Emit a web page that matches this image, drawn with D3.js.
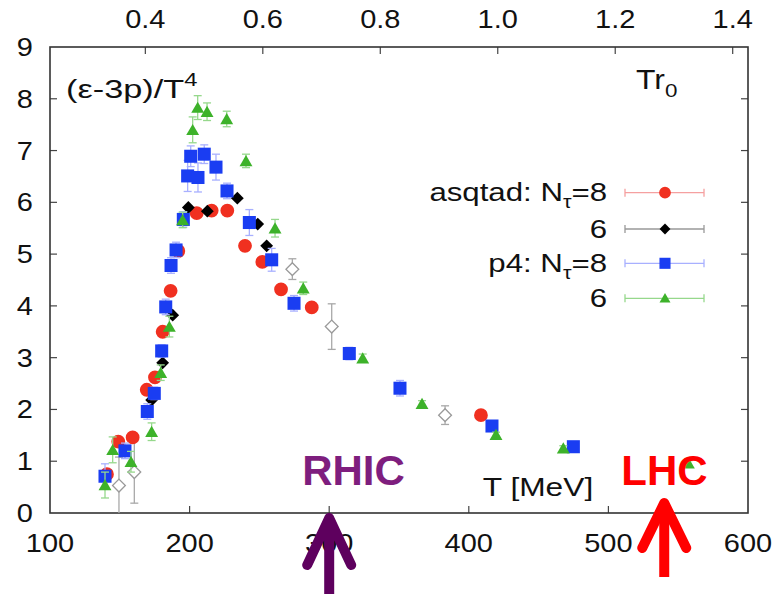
<!DOCTYPE html>
<html>
<head>
<meta charset="utf-8">
<script src="https://cdn.jsdelivr.net/npm/d3@7"></script>
<style>
  html, body { margin: 0; padding: 0; background: #fff; }
  svg { display: block; font-family: "Liberation Sans", Arial, Helvetica, sans-serif; }
</style>
</head>
<body>
<svg id="chart" width="775" height="594"></svg>
<script>
// Trace anomaly (e-3p)/T^4 versus temperature, lattice QCD results.
// Each series: temperature [MeV], value, error.
const asqtad8T = [140.8, 148.9, 159.2, 169.3, 175.2, 180.7, 186.4, 191.9, 205.1, 215.8, 227.0, 239.7, 252.1, 265.5, 287.5, 408.7];
const asqtad8V = [0.75, 1.38, 1.46, 2.38, 2.62, 3.50, 4.29, 5.06, 5.79, 5.84, 5.84, 5.16, 4.85, 4.32, 3.97, 1.89];

const asqtad6T = [172.8, 180.7, 187.9, 199.1, 212.7, 234.2, 248.8, 255.2];
const asqtad6V = [2.18, 2.90, 3.82, 5.90, 5.83, 6.08, 5.58, 5.16];

const asqtad6hT = [149.4, 160.4, 273.6, 301.8, 383.0];
const asqtad6hV = [0.53, 0.79, 4.71, 3.60, 1.89];
const asqtad6hE = [0.55, 0.60, 0.20, 0.44, 0.18];

const p4n8T = [139.4, 153.7, 169.7, 174.7, 180.0, 182.9, 186.7, 190.3, 195.5, 198.6, 200.8, 206.0, 210.5, 218.9, 226.8, 242.8, 258.8, 274.8, 314.4, 350.7, 416.6, 474.9];
const p4n8V = [0.71, 1.20, 1.96, 2.31, 3.13, 3.98, 4.78, 5.08, 5.67, 6.51, 6.89, 6.48, 6.93, 6.68, 6.22, 5.61, 4.89, 4.05, 3.08, 2.41, 1.68, 1.28];
const p4n8E = [0.24, 0.15, 0.15, 0.12, 0.12, 0.15, 0.15, 0.15, 0.15, 0.30, 0.20, 0.28, 0.18, 0.25, 0.15, 0.25, 0.22, 0.15, 0.12, 0.15, 0.08, 0.08];

const p4n6T = [139.4, 144.9, 158.0, 172.8, 179.3, 185.5, 195.0, 202.2, 205.8, 212.5, 226.6, 240.4, 261.2, 281.4, 324.0, 366.5, 419.5, 467.7, 557.3];
const p4n6V = [0.54, 1.22, 0.99, 1.57, 2.71, 3.60, 5.66, 7.40, 7.83, 7.75, 7.61, 6.80, 5.50, 4.34, 2.99, 2.11, 1.51, 1.25, 0.96];
const p4n6E = [0.25, 0.25, 0.20, 0.17, 0.15, 0.20, 0.15, 0.25, 0.23, 0.17, 0.15, 0.13, 0.17, 0.12, 0.08, 0.06, 0.05, 0.05, 0.05];

// Axis ticks
const xTicks = [100, 200, 300, 400, 500, 600];
const yTicks = [0, 1, 2, 3, 4, 5, 6, 7, 8, 9];
const topTicks = [0.4, 0.6, 0.8, 1.0, 1.2, 1.4];
const r0fm = 0.469, hbarc = 197.327;   // T r0 = T[MeV] * r0 / (hbar c)

// Collider temperatures marked below the axis
const colliders = [
  { name: "RHIC", T: 300 },
  { name: "LHC", T: 540 }
];

const svg = d3.select("#chart");
const L = 50, R = 748, T0 = 47, B = 513;
const SX = 1.16; // horizontal text stretch

const x = d3.scaleLinear().domain([100, 600]).range([L, R]);
const y = d3.scaleLinear().domain([0, 9]).range([B, T0]);
const xTop = d3.scaleLinear().domain([100 * r0fm / hbarc, 600 * r0fm / hbarc]).range([L, R]);

function label(g, px, py, str, size, anchor, sx) {
  return g.append("text")
    .attr("transform", `translate(${px},${py}) scale(${sx === undefined ? SX : sx},1)`)
    .attr("text-anchor", anchor || "start")
    .attr("font-size", size)
    .attr("fill", "#111")
    .text(str);
}

// Ticks (inward) on all four sides
const tl = 7;
const tickG = svg.append("g").attr("stroke", "#444").attr("stroke-width", 1.2);
xTicks.slice(1, -1).forEach(t => {
  tickG.append("line").attr("x1", x(t)).attr("x2", x(t)).attr("y1", B).attr("y2", B - tl);
});
yTicks.slice(1, -1).forEach(t => {
  tickG.append("line").attr("x1", L).attr("x2", L + tl).attr("y1", y(t)).attr("y2", y(t));
  tickG.append("line").attr("x1", R).attr("x2", R - tl).attr("y1", y(t)).attr("y2", y(t));
});
topTicks.forEach(t => {
  tickG.append("line").attr("x1", xTop(t)).attr("x2", xTop(t)).attr("y1", T0).attr("y2", T0 + tl);
});

// Frame
svg.append("rect").attr("x", L).attr("y", T0).attr("width", R - L).attr("height", B - T0)
  .attr("fill", "none").attr("stroke", "#333").attr("stroke-width", 1.6);

// Tick labels
const lab = svg.append("g");
xTicks.forEach(t => label(lab, x(t), 552, String(t), 25, "middle"));
yTicks.forEach(t => label(lab, 33, y(t) + 9, String(t), 25, "end"));
topTicks.forEach(t => label(lab, xTop(t), 28, d3.format(".1f")(t), 25, "middle"));

// Axis titles
const yt = label(svg, 66, 98, "(\u03b5-3p)/T", 26, "start", 1.32);
yt.append("tspan").attr("dy", -12).attr("font-size", 18).text("4");
const tr = label(svg, 636, 89, "Tr", 27, "start", 1.18);
tr.append("tspan").attr("dy", 8).attr("font-size", 19).text("0");
label(svg, 538, 496, "T [MeV]", 26, "middle", 1.22);

// Series definitions
const series = [
  { T: asqtad6hT, V: asqtad6hV, E: asqtad6hE, shape: "diamond", fill: "#fff", stroke: "#9a9a9a", err: "#a8a8a8", legend: false },
  { T: asqtad8T, V: asqtad8V, E: null, shape: "circle", fill: "#f03020", stroke: "none", err: "#f5a0a0", legend: true, lab: ["asqtad: N", "=8"] },
  { T: asqtad6T, V: asqtad6V, E: null, shape: "diamond", fill: "#000", stroke: "none", err: "#999", legend: true, lab: ["6"] },
  { T: p4n8T, V: p4n8V, E: p4n8E, shape: "square", fill: "#1a3df2", stroke: "none", err: "#a8b0ff", legend: true, lab: ["p4: N", "=8"] },
  { T: p4n6T, V: p4n6V, E: p4n6E, shape: "triangle", fill: "#3db22a", stroke: "none", err: "#96d88c", legend: true, lab: ["6"] }
];

function symbolPath(shape) {
  if (shape === "circle") return d3.symbol(d3.symbolCircle, 150)();
  if (shape === "square") return d3.symbol(d3.symbolSquare, 170)();
  if (shape === "triangle") return d3.symbol(d3.symbolTriangle, 72)();
  return d3.symbol(d3.symbolSquare, 82)();
}
function symbolRot(shape) { return shape === "diamond" ? " rotate(45)" : ""; }

const plot = svg.append("g");
series.forEach(s => {
  const g = plot.append("g");
  const pts = s.T.map((t, i) => ({ t, v: s.V[i], e: s.E ? s.E[i] : 0 }));
  if (s.E) {
    const eg = g.append("g").attr("stroke", s.err).attr("stroke-width", 1.3).attr("fill", "none");
    pts.forEach(p => {
      const cx = x(p.t), y1 = y(Math.max(0, p.v - p.e)), y2 = y(p.v + p.e);
      eg.append("line").attr("x1", cx).attr("x2", cx).attr("y1", y1).attr("y2", y2);
      eg.append("line").attr("x1", cx - 4).attr("x2", cx + 4).attr("y1", y2).attr("y2", y2);
      if (p.v - p.e > 0) eg.append("line").attr("x1", cx - 4).attr("x2", cx + 4).attr("y1", y1).attr("y2", y1);
    });
  }
  g.selectAll("path.m").data(pts).join("path").attr("class", "m")
    .attr("d", symbolPath(s.shape))
    .attr("transform", p => `translate(${x(p.t)},${y(p.v) + (s.shape === "triangle" ? 1.5 : 0)})${symbolRot(s.shape)}`)
    .attr("fill", s.fill).attr("stroke", s.stroke).attr("stroke-width", 1.3);
});

// Legend
const legRows = [192.7, 229, 263.3, 298.3];
const leg = svg.append("g");
series.filter(s => s.legend).forEach((s, i) => {
  const ry = legRows[i];
  const t = label(leg, 607, ry + 8.5, s.lab[0], 26, "end", 1.2);
  if (s.lab.length > 1) {
    t.append("tspan").attr("dy", 7).attr("font-size", 18).text("\u03c4");
    t.append("tspan").attr("dy", -7).text(s.lab[1]);
  }
  leg.append("line").attr("x1", 625).attr("x2", 704).attr("y1", ry).attr("y2", ry)
    .attr("stroke", s.err).attr("stroke-width", 1.3);
  [625, 704].forEach(cx => leg.append("line").attr("x1", cx).attr("x2", cx)
    .attr("y1", ry - 4).attr("y2", ry + 4).attr("stroke", s.err).attr("stroke-width", 1.3));
  leg.append("path").attr("d", symbolPath(s.shape))
    .attr("transform", `translate(665,${ry + (s.shape === "triangle" ? 1 : 0)})${symbolRot(s.shape)} scale(0.85)`)
    .attr("fill", s.fill);
});

// Collider annotations
const ann = svg.append("g");
const rhic = colliders[0], lhc = colliders[1];
ann.append("text").attr("x", x(rhic.T) - 27).attr("y", 485).attr("font-size", 42).attr("font-weight", "bold")
  .attr("fill", "#7e1e7e").attr("text-anchor", "start").text(rhic.name);
ann.append("path")
  .attr("d", `M${x(rhic.T)},600 L${x(rhic.T)},518 M${x(rhic.T) - 22},565 L${x(rhic.T)},518 L${x(rhic.T) + 22},565`)
  .attr("stroke", "#5e005e").attr("stroke-width", 10).attr("fill", "none")
  .attr("stroke-linecap", "round").attr("stroke-linejoin", "round");
ann.append("text").attr("x", x(lhc.T) - 43).attr("y", 485).attr("font-size", 42).attr("font-weight", "bold")
  .attr("fill", "#ff0000").attr("text-anchor", "start").text(lhc.name);
ann.append("path")
  .attr("d", `M${x(lhc.T)},577 L${x(lhc.T)},503`)
  .attr("stroke", "#ff0000").attr("stroke-width", 10).attr("fill", "none");
ann.append("path")
  .attr("d", `M${x(lhc.T) - 22},548 L${x(lhc.T)},503 L${x(lhc.T) + 22},548`)
  .attr("stroke", "#ff0000").attr("stroke-width", 10).attr("fill", "none")
  .attr("stroke-linecap", "round").attr("stroke-linejoin", "round");
</script>
</body>
</html>
